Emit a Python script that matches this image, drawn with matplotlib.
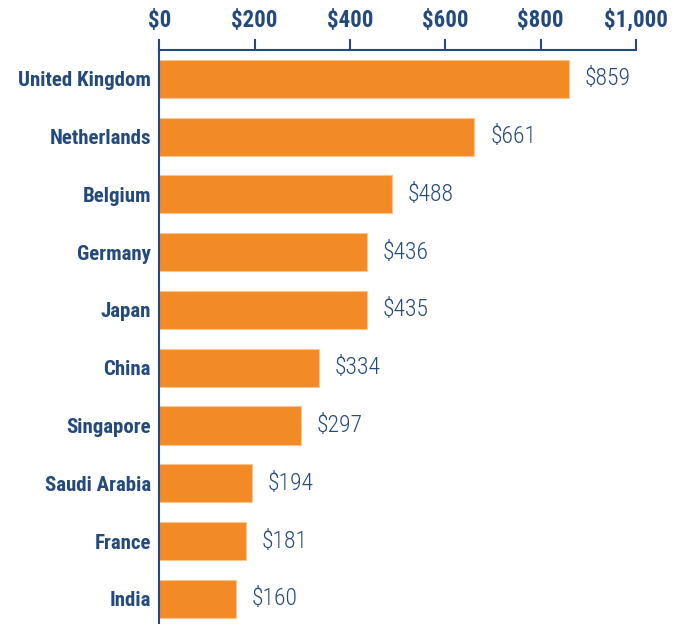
import matplotlib
matplotlib.use("Agg")
import matplotlib.pyplot as plt

# ============================================================
# 数据
# ============================================================
countries = ["United Kingdom", "Netherlands", "Belgium", "Germany", "Japan",
             "China", "Singapore", "Saudi Arabia", "France", "India"]
values = [859, 661, 488, 436, 435, 334, 297, 194, 181, 160]
ticks = [0, 200, 400, 600, 800, 1000]
tick_labels = ["$0", "$200", "$400", "$600", "$800", "$1,000"]

NAVY = "#244a7c"
ORANGE = "#f28a25"

# 窄体字，缺失时依次回退
plt.rcParams["font.family"] = ["Roboto Condensed", "Liberation Sans Narrow",
                               "DejaVu Sans Condensed", "DejaVu Sans"]

fig = plt.figure(figsize=(6.85, 6.24), dpi=100)
ax = fig.add_axes([0.2325, -0.006, 0.696, 0.926])

y = list(range(len(countries)))
ax.barh(y, values, height=0.66, color=ORANGE, edgecolor="#f9c48f", linewidth=0.8)

for yi, v in zip(y, values):
    ax.text(v + 33, yi, f"${v}", va="center", ha="left", fontsize=17,
            fontweight="light", color=NAVY)

ax.set_xlim(0, 1000)
ax.set_ylim(len(countries) - 0.5, -0.5)
ax.xaxis.tick_top()
ax.set_xticks(ticks)
ax.set_xticklabels(tick_labels, fontsize=16.5, fontweight="bold", color=NAVY)
ax.tick_params(axis="x", direction="out", length=8, width=1.5, color=NAVY, pad=5)
ax.set_yticks(y)
ax.set_yticklabels(countries, fontsize=15, fontweight="bold", color=NAVY)
ax.tick_params(axis="y", length=0, pad=6)

for side in ["right", "bottom"]:
    ax.spines[side].set_visible(False)
for side in ["top", "left"]:
    ax.spines[side].set_color(NAVY)
    ax.spines[side].set_linewidth(1.5)

fig.savefig("out.png", dpi=100)
